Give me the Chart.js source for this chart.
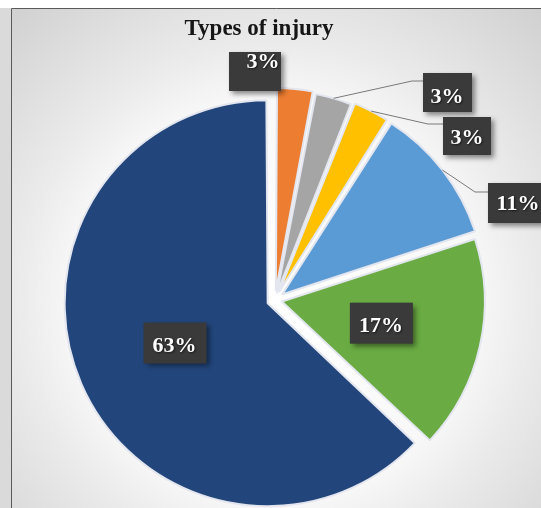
<!DOCTYPE html>
<html>
<head>
<meta charset="utf-8">
<title>Types of injury</title>
<script src="https://cdn.jsdelivr.net/npm/chart.js@4.4.1/dist/chart.umd.min.js"></script>
<style>
  html, body { margin: 0; padding: 0; background: #fff; }
  canvas { display: block; }
</style>
</head>
<body>
<canvas id="injuryChart" width="541" height="508"></canvas>
<script>
// data
const injuryTypes = ['Type A', 'Type B', 'Type C', 'Type D', 'Type E', 'Type F'];
const shares = [3, 3, 3, 11, 17, 63];

// styling
const sliceColors = ['#ed7d31', '#a5a5a5', '#ffc000', '#5b9bd5', '#6aab43', '#22457b'];
const explodePx = [9, 7, 9, 9, 7, 8];   // how far each slice is pulled out
const R = 203;

// where the outside labels sit (box rect, text centre, leader elbow)
const outerLabels = {
  0: { box: [229, 52, 52, 39], text: [263, 62] },
  1: { box: [423, 73, 49, 39], text: [447, 97], elbow: [412, 81] },
  2: { box: [443, 117, 48, 38], text: [467, 138], elbow: [428, 124] },
  3: { box: [488, 183, 62, 40], text: [518, 204], elbow: [475, 192] }
};

// background, frame and title
const backdrop = {
  id: 'backdrop',
  beforeDraw(chart) {
    const c = chart.ctx;
    const w = chart.width, h = chart.height;
    c.save();
    c.fillStyle = '#ffffff';
    c.fillRect(0, 0, w, h);
    c.fillStyle = '#dadada';
    c.fillRect(0, 8, 11, h);
    const g = c.createRadialGradient(275, 300, 0, 275, 300, 400);
    g.addColorStop(0, '#ffffff');
    g.addColorStop(0.5, '#f8f8f8');
    g.addColorStop(0.64, '#ebebeb');
    g.addColorStop(1, '#cfcfcf');
    c.fillStyle = g;
    c.fillRect(12, 9, w - 12, h - 9);
    c.strokeStyle = '#5a5a5a';
    c.lineWidth = 1;
    c.beginPath();
    c.moveTo(11.5, h);
    c.lineTo(11.5, 8.5);
    c.lineTo(w, 8.5);
    c.stroke();
    c.fillStyle = '#161616';
    c.font = 'bold 23px "Liberation Serif", "Times New Roman", serif';
    c.textAlign = 'center';
    c.textBaseline = 'alphabetic';
    c.fillText('Types of injury', 259, 35);
    c.restore();
  }
};

// chart.js grows the radius of offset arcs; keep every slice at R
const radiusFix = {
  id: 'radiusFix',
  beforeDatasetsDraw(chart) {
    chart.getDatasetMeta(0).data.forEach(arc => {
      const t = (arc.options.offset || 0) / 4;
      const fix = 1 - Math.sin(Math.min(Math.PI, arc.circumference));
      arc.outerRadius = R - t * fix;
    });
  }
};

function drawTag(c, x, y, w, h) {
  c.save();
  c.shadowColor = 'rgba(0,0,0,0.45)';
  c.shadowBlur = 5;
  c.shadowOffsetX = 3;
  c.shadowOffsetY = 3;
  c.fillStyle = '#3a3a3a';
  c.fillRect(x, y, w, h);
  c.restore();
}

function drawPct(c, txt, x, y) {
  c.save();
  c.font = 'bold 22px "Liberation Serif", "Times New Roman", serif';
  c.textAlign = 'center';
  c.textBaseline = 'middle';
  c.shadowColor = 'rgba(0,0,0,0.6)';
  c.shadowBlur = 2;
  c.shadowOffsetX = 1;
  c.shadowOffsetY = 1;
  c.fillStyle = '#ffffff';
  c.fillText(txt, x, y);
  c.restore();
}

// percentage tags + leader lines
const dataLabels = {
  id: 'dataLabels',
  afterDatasetsDraw(chart) {
    const c = chart.ctx;
    const meta = chart.getDatasetMeta(0);
    const total = shares.reduce((a, b) => a + b, 0);
    meta.data.forEach((arc, i) => {
      const txt = Math.round(shares[i] / total * 100) + '%';
      const mid = (arc.startAngle + arc.endAngle) / 2;
      const dx = Math.cos(mid), dy = Math.sin(mid);
      const t = explodePx[i];
      const spot = outerLabels[i];
      if (spot) {
        if (spot.elbow) {
          const sx = arc.x + dx * (t + R);
          const sy = arc.y + dy * (t + R);
          c.save();
          c.strokeStyle = '#7a7a7a';
          c.lineWidth = 1;
          c.beginPath();
          c.moveTo(sx, sy);
          c.lineTo(spot.elbow[0], spot.elbow[1]);
          c.lineTo(spot.box[0], spot.elbow[1]);
          c.stroke();
          c.restore();
        }
        drawTag(c, spot.box[0], spot.box[1], spot.box[2], spot.box[3]);
        drawPct(c, txt, spot.text[0], spot.text[1]);
      } else {
        const px = arc.x + dx * (t + R / 2);
        const py = arc.y + dy * (t + R / 2);
        drawTag(c, px - 31, py - 21, 63, 41);
        drawPct(c, txt, px, py + 3);
      }
    });
  }
};

const ctx = document.getElementById('injuryChart').getContext('2d');
new Chart(ctx, {
  type: 'pie',
  data: {
    labels: injuryTypes,
    datasets: [{
      data: shares,
      backgroundColor: sliceColors,
      borderColor: '#e3e6ee',
      borderWidth: 2,
      offset: explodePx.map(p => p * 4),
      hoverOffset: 0,
      radius: R
    }]
  },
  options: {
    responsive: false,
    animation: false,
    events: [],
    layout: { padding: { left: 9, right: 0, top: 92, bottom: 0 } },
    plugins: {
      legend: { display: false },
      title: { display: false },
      tooltip: { enabled: false }
    }
  },
  plugins: [backdrop, radiusFix, dataLabels]
});
</script>
</body>
</html>
